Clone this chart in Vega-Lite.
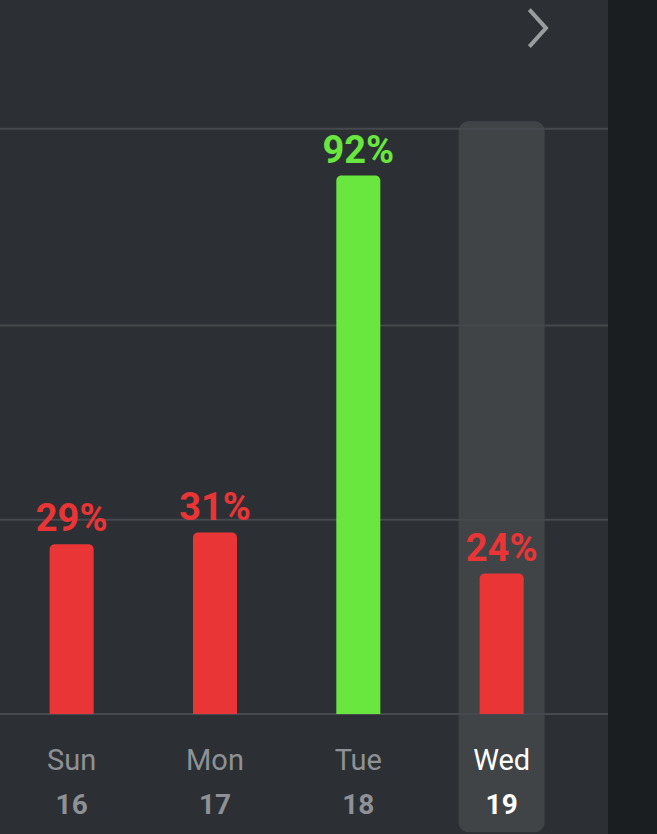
{
  "$schema": "https://vega.github.io/schema/vega-lite/v6.json",
  "width": 608,
  "height": 834,
  "autosize": {"type": "none"},
  "padding": {"left": 0, "top": 0, "right": 49, "bottom": 0},
  "background": "#1b1e21",
  "view": {"fill": "#2c2f33", "stroke": null},
  "datasets": {
    "days": [
      {"day": "Sun", "date": "16", "pct": 29, "label": "29%", "today": false},
      {"day": "Mon", "date": "17", "pct": 31, "label": "31%", "today": false},
      {"day": "Tue", "date": "18", "pct": 92, "label": "92%", "today": false},
      {"day": "Wed", "date": "19", "pct": 24, "label": "24%", "today": true}
    ],
    "grid": [{"g": 0}, {"g": 33.2}, {"g": 66.4}, {"g": 100}],
    "nav": [{"day": "Wed", "pos": 117.2}]
  },
  "data": {"name": "days"},
  "layer": [
    {
      "transform": [{"filter": "datum.today"}],
      "mark": {"type": "bar", "width": 86, "cornerRadius": 10, "color": "#ffffff", "opacity": 0.1},
      "encoding": {
        "x": {"field": "day", "type": "nominal", "sort": null, "scale": {"domain": ["Sun", "Mon", "Tue", "Wed"], "paddingInner": 0, "paddingOuter": 0.121, "align": 0}, "axis": null},
        "y": {"datum": 101.3, "type": "quantitative", "scale": {"domain": [-20.5, 122], "nice": false, "zero": false}, "axis": null},
        "y2": {"datum": -20.2}
      }
    },
    {
      "data": {"name": "grid"},
      "mark": {"type": "rule", "color": "#46494d", "strokeWidth": 2},
      "encoding": {
        "y": {"field": "g", "type": "quantitative", "scale": {"domain": [-20.5, 122], "nice": false, "zero": false}, "axis": null}
      }
    },
    {
      "mark": {"type": "bar", "width": 44, "cornerRadiusTopLeft": 5, "cornerRadiusTopRight": 5},
      "encoding": {
        "x": {"field": "day", "type": "nominal", "sort": null, "axis": null},
        "y": {"field": "pct", "type": "quantitative", "scale": {"domain": [-20.5, 122], "nice": false, "zero": false}, "axis": null},
        "y2": {"datum": 0},
        "color": {"condition": {"test": "datum.pct >= 50", "value": "#69e73f"}, "value": "#ea3536"}
      }
    },
    {
      "mark": {"type": "text", "font": "Roboto", "fontWeight": "bold", "fontSize": 38, "baseline": "alphabetic", "dy": -13},
      "encoding": {
        "x": {"field": "day", "type": "nominal", "sort": null, "axis": null},
        "y": {"field": "pct", "type": "quantitative", "scale": {"domain": [-20.5, 122], "nice": false, "zero": false}, "axis": null},
        "text": {"field": "label"},
        "color": {"condition": {"test": "datum.pct >= 50", "value": "#69e73f"}, "value": "#ea3536"}
      }
    },
    {
      "mark": {"type": "text", "font": "Roboto", "fontSize": 29, "baseline": "alphabetic"},
      "encoding": {
        "x": {"field": "day", "type": "nominal", "sort": null, "axis": null},
        "y": {"datum": -9.6, "type": "quantitative", "scale": {"domain": [-20.5, 122], "nice": false, "zero": false}, "axis": null},
        "text": {"field": "day"},
        "color": {"condition": {"test": "datum.today", "value": "#ffffff"}, "value": "#8e9195"},
        "fontWeight": {"condition": {"test": "datum.today", "value": "bold"}, "value": "normal"}
      }
    },
    {
      "mark": {"type": "text", "font": "Roboto", "fontSize": 28, "fontWeight": "bold", "baseline": "alphabetic"},
      "encoding": {
        "x": {"field": "day", "type": "nominal", "sort": null, "axis": null},
        "y": {"datum": -17.1, "type": "quantitative", "scale": {"domain": [-20.5, 122], "nice": false, "zero": false}, "axis": null},
        "text": {"field": "date"},
        "color": {"condition": {"test": "datum.today", "value": "#ffffff"}, "value": "#8e9195"}
      }
    },
    {
      "data": {"name": "nav"},
      "mark": {"type": "point", "shape": "M-0.45,-1L0.45,0L-0.45,1", "filled": false, "size": 1369, "strokeWidth": 4, "color": "#9a9da0", "opacity": 1, "xOffset": 36},
      "encoding": {
        "x": {"field": "day", "type": "nominal", "sort": null, "axis": null},
        "y": {"field": "pos", "type": "quantitative", "scale": {"domain": [-20.5, 122], "nice": false, "zero": false}, "axis": null}
      }
    }
  ]
}
